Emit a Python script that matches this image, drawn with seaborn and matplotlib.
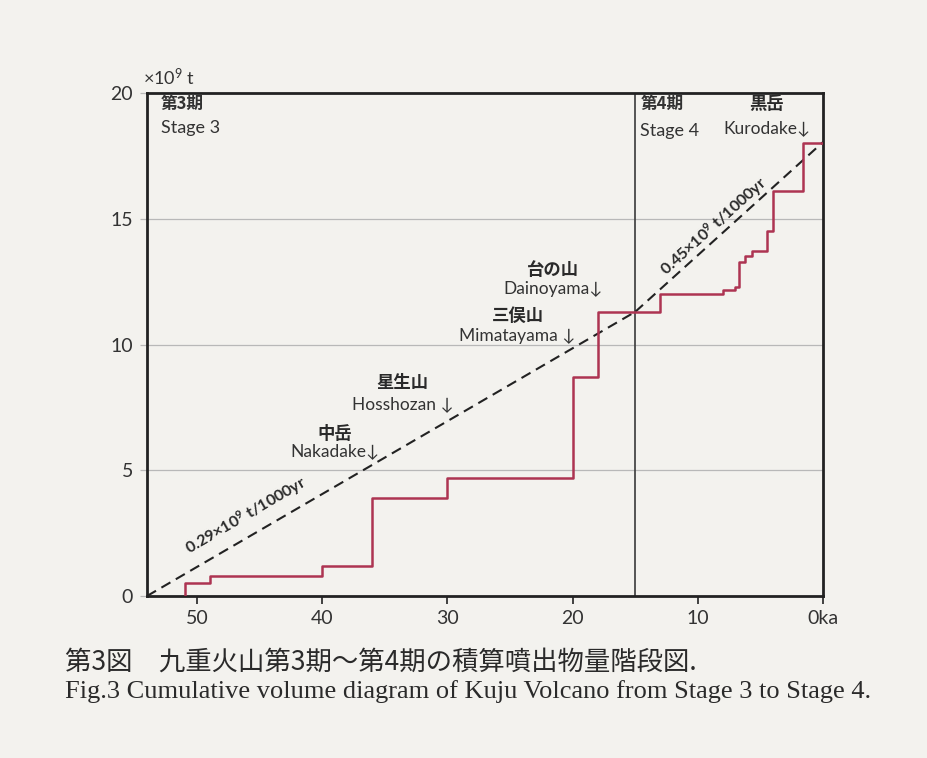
import numpy as np
import pandas as pd
import matplotlib
matplotlib.use("Agg")
import matplotlib.pyplot as plt
import seaborn as sns

# ---------------- data ----------------
step_ka = [51, 51, 49, 40, 36, 30, 20, 18, 13, 8, 7, 6.7, 6.2, 5.7, 4.5, 4.0, 1.6, 0.0]
step_vol = [0, 0.5, 0.8, 1.2, 3.9, 4.7, 8.7, 11.3, 12.0, 12.15, 12.3, 13.3, 13.5, 13.7, 14.5, 16.1, 18.0, 18.0]

trend3_ka = [54, 15]
trend3_vol = [0, 11.3]
trend4_ka = [15, 0]
trend4_vol = [11.3, 18.05]

stage_boundary_ka = 15
xticks = [50, 40, 30, 20, 10, 0]
xticklabels = ["50", "40", "30", "20", "10", "0ka"]
yticks = [0, 5, 10, 15, 20]
grid_levels = [5, 10, 15]

volcano_jp = ["黒岳", "台の山", "三俣山", "星生山", "中岳"]
volcano_en = ["Kurodake↓", "Dainoyama↓", "Mimatayama ↓", "Hosshozan ↓", "Nakadake↓"]
label_ka = [4.5, 21.6, 24.4, 33.6, 39.0]
label_vol_jp = [19.55, 12.95, 11.15, 8.45, 6.45]
label_vol_en = [18.6, 12.2, 10.35, 7.65, 5.75]

# ---------------- style ----------------
sns.set_theme(style="white")
paper = "#f3f2ee"
plt.rcParams["font.family"] = ["Noto Sans CJK JP", "DejaVu Sans"]
plt.rcParams["axes.unicode_minus"] = False
plt.rcParams["mathtext.default"] = "regular"
latin = ["Lato", "DejaVu Sans"]

fig = plt.figure(figsize=(9.28, 7.58), dpi=100, facecolor=paper)
ax = fig.add_axes([0.1584, 0.2137, 0.8869 - 0.1584, 0.8773 - 0.2137])
ax.set_facecolor(paper)

ax.set_xlim(54, 0)
ax.set_ylim(0, 20)

# grid lines
for g in grid_levels:
    ax.axhline(g, color="#b8b8b8", lw=0.9, zorder=1)

# stage boundary
ax.axvline(stage_boundary_ka, color="#3a3a3a", lw=1.2, zorder=2)

# trend lines
df3 = pd.DataFrame({"ka": trend3_ka, "vol": trend3_vol})
df4 = pd.DataFrame({"ka": trend4_ka, "vol": trend4_vol})
for d in (df3, df4):
    sns.lineplot(data=d, x="ka", y="vol", ax=ax, color="#222222", lw=1.5,
                 estimator=None, sort=False, zorder=3, linestyle=(0, (5, 3)))

# step line
dfs = pd.DataFrame({"ka": step_ka, "vol": step_vol})
sns.lineplot(data=dfs, x="ka", y="vol", ax=ax, color="#ad3452", lw=1.8,
             estimator=None, sort=False, drawstyle="steps-post", zorder=4)

ax.set_xlabel("")
ax.set_ylabel("")
ax.set_xticks(xticks)
ax.set_xticklabels(xticklabels, family=latin)
ax.set_yticks(yticks)
ax.set_yticklabels([str(v) for v in yticks], family=latin)
ax.tick_params(axis="x", direction="out", length=6, width=1.2, color="#222222",
               labelsize=14, labelcolor="#333333", pad=4, bottom=True)
ax.tick_params(axis="y", direction="out", length=5, width=0.9, color="#b8b8b8",
               labelsize=14, labelcolor="#333333", pad=5, left=True)
for s in ax.spines.values():
    s.set_color("#222222")
    s.set_linewidth(2.0)

# unit label
fig.text(143 / 928, 1 - 77 / 758, "×10$^9$ t", fontsize=13, color="#333333",
         ha="left", va="center", family=latin)

# stage labels
txtc = "#333333"
ax.text(52.9, 19.55, "第3期", fontsize=12, fontweight="bold", color=txtc, ha="left", va="center")
ax.text(52.9, 18.6, "Stage 3", fontsize=13, color=txtc, ha="left", va="center", family=latin)
ax.text(14.6, 19.55, "第4期", fontsize=12, fontweight="bold", color=txtc, ha="left", va="center")
ax.text(14.6, 18.5, "Stage 4", fontsize=13, color=txtc, ha="left", va="center", family=latin)

# volcano labels
for jp, en, k, yj, ye in zip(volcano_jp, volcano_en, label_ka, label_vol_jp, label_vol_en):
    ax.text(k, yj, jp, fontsize=12.5, fontweight="bold", color="#2a2a2a", ha="center", va="center")
    ax.text(k, ye, en, fontsize=12.5, color=txtc, ha="center", va="center", family=latin)

# slope labels, rotated along the trend lines
fig.canvas.draw()
def angle(xs, ys):
    p = ax.transData.transform(np.column_stack([xs, ys]))
    return np.degrees(np.arctan2(p[1, 1] - p[0, 1], p[1, 0] - p[0, 0]))

ax.text(46.1, 3.2, "0.29×10$^9$ t/1000yr", fontsize=11.5, fontweight="bold", color="#2a2a2a",
        ha="center", va="center", rotation=angle(trend3_ka, trend3_vol),
        rotation_mode="anchor", family=latin)
ax.text(8.7, 14.7, "0.45×10$^9$ t/1000yr", fontsize=11.5, fontweight="bold", color="#2a2a2a",
        ha="center", va="center", rotation=angle(trend4_ka, trend4_vol),
        rotation_mode="anchor", family=latin)

# caption
fig.text(65 / 928, 1 - 662 / 758, "第3図　九重火山第3期～第4期の積算噴出物量階段図.",
         fontsize=19, color="#2a2a2a", ha="left", va="center",
         family=["Noto Sans CJK JP", "DejaVu Sans"])
fig.text(65 / 928, 1 - 692 / 758,
         "Fig.3 Cumulative volume diagram of Kuju Volcano from Stage 3 to Stage 4.",
         fontsize=19, color="#2a2a2a", ha="left", va="center",
         family=["Liberation Serif", "DejaVu Serif"])

fig.savefig("out.png", dpi=100, facecolor=paper)
